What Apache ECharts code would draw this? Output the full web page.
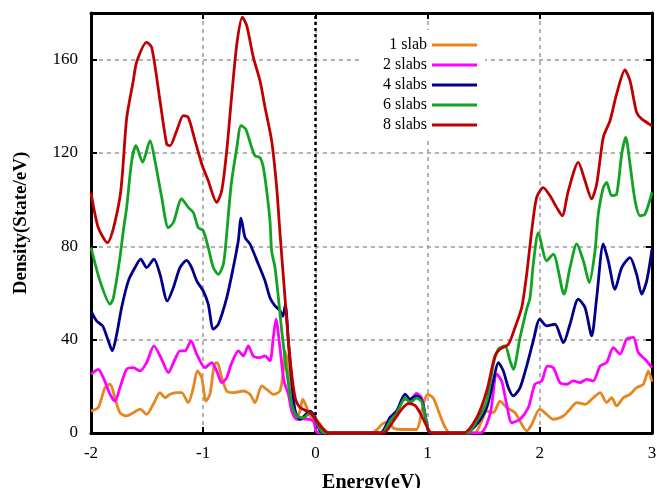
<!DOCTYPE html>
<html>
<head>
<meta charset="utf-8">
<script src="https://cdn.jsdelivr.net/npm/echarts@6/dist/echarts.min.js"></script>
<style>html,body{margin:0;padding:0;background:#fff}#c{width:657px;height:488px}</style>
</head>
<body>
<div id="c"></div>
<script>
// ---- data ----
const seriesNames = ['1 slab', '2 slabs', '4 slabs', '6 slabs', '8 slabs'];
const xTicks = ['-2', '-1', '0', '1', '2', '3'];
const yTicks = ['0', '40', '80', '120', '160'];

const slab1X = [-2.0,-1.935,-1.875,-1.83,-1.786,-1.742,-1.682,-1.623,-1.563,-1.504,-1.445,-1.385,-1.34,-1.296,-1.236,-1.192,-1.133,-1.088,-1.052,-1.013,-0.975,-0.94,-0.90,-0.874,-0.835,-0.79,-0.732,-0.642,-0.583,-0.538,-0.478,-0.434,-0.375,-0.316,-0.286,-0.271,-0.241,-0.22,-0.197,-0.167,-0.137,-0.113,-0.077,-0.047,0.01,0.07,0.12,0.5,0.55,0.6,0.65,0.7,0.8,0.9,0.93,0.96,1.0,1.05,1.1,1.15,1.2,1.42,1.48,1.527,1.586,1.645,1.705,1.779,1.839,1.883,1.928,2.0,2.061,2.12,2.21,2.269,2.329,2.403,2.477,2.537,2.596,2.64,2.685,2.744,2.804,2.863,2.923,2.967,3.0];
const slab1Y = [9.4,10.9,19.4,20.9,15.1,8.7,7.3,8.7,10.2,8,12.3,17.3,15.1,16.6,17.3,17.3,13,19.4,26.6,23.7,13.7,16.6,29.5,30.2,23.7,18,17.3,18,16.6,13,20.2,18.7,16.6,18,26.6,35.2,29.5,18,9.4,6.6,9.4,14.5,10.9,7.3,5.9,2,0,0,1.5,4,4.5,2,1.5,1.5,5,12,16.5,15,9,3,0,0,5,9.4,8.7,13.7,10.9,8.7,3.7,0.9,3.7,10.2,8,5.9,7.3,10.2,13,12.3,15.1,17.3,13,15.1,11.6,15.1,16.6,19.4,20.9,26.6,22];

const slab2X = [-2.0,-1.935,-1.89,-1.83,-1.786,-1.742,-1.682,-1.623,-1.563,-1.504,-1.439,-1.37,-1.311,-1.251,-1.207,-1.162,-1.109,-1.058,-0.984,-0.924,-0.88,-0.835,-0.79,-0.75,-0.687,-0.642,-0.598,-0.553,-0.494,-0.449,-0.405,-0.375,-0.351,-0.316,-0.28,-0.241,-0.211,-0.167,-0.107,-0.02,0.01,0.05,0.58,0.665,0.725,0.77,0.80,0.843,0.9,0.947,0.977,1.006,1.04,1.467,1.556,1.616,1.66,1.705,1.75,1.824,1.898,1.957,2.017,2.067,2.12,2.18,2.24,2.299,2.358,2.418,2.477,2.537,2.596,2.655,2.715,2.774,2.833,2.878,2.938,3.0];
const slab2Y = [25.2,27.3,23.7,16.6,13.7,19.4,27.3,28,26.6,30.2,37.3,31.6,25.9,31.6,35.2,35.2,39.5,33.8,28,30.2,26.6,21.6,23.7,29.5,35.2,33,37.3,33,32.3,33,30.9,40.9,48.8,36.6,22.3,16.6,9.4,5.9,6.1,5.1,0.5,0,0,6.6,9.4,13.5,14.5,14,17,15,8,1,0,0,8,25.2,22.3,12.3,4.4,5.9,10.9,20.9,22.3,28.7,28,21.6,20.9,22.3,21.6,23,22.3,28.7,30.2,36.6,33.8,40.2,41,34.5,31.6,28];

const slab4X = [-2.0,-1.95,-1.896,-1.846,-1.81,-1.771,-1.727,-1.667,-1.608,-1.557,-1.504,-1.439,-1.385,-1.32,-1.266,-1.207,-1.147,-1.103,-1.058,-1.0,-0.955,-0.91,-0.865,-0.79,-0.732,-0.687,-0.663,-0.627,-0.583,-0.509,-0.449,-0.405,-0.36,-0.316,-0.29,-0.268,-0.241,-0.211,-0.18,-0.137,-0.047,-0.003,0.04,0.08,0.576,0.665,0.725,0.77,0.80,0.843,0.903,0.947,0.977,1.006,1.04,1.333,1.438,1.527,1.586,1.63,1.675,1.72,1.764,1.824,1.883,1.942,2.0,2.061,2.135,2.21,2.269,2.343,2.403,2.462,2.507,2.566,2.61,2.67,2.73,2.804,2.863,2.908,2.953,3.0];
const slab4Y = [52.3,48,45.9,39.5,35.2,42.3,53.8,65.2,70.9,74.5,70.9,74.5,68,56.6,62.3,70.9,74,70.9,65.2,60.9,55.2,44.5,46.6,58,70.9,82.4,92.1,83.8,81,72.4,65.2,58,54.5,52.5,50,55,39.5,22.3,9.4,5.9,9.4,6.6,1,0,0,6.6,9.4,14.5,16.6,14.5,15.9,14,8,1,0,0,3.7,10.9,22.3,30.2,26.6,19.4,15.9,19.4,28.7,39.5,48.8,45.9,46.6,38.7,46.6,57.4,53.8,41.6,58,81,73.8,61.6,70.9,75.2,68,59.5,65.2,78.8];

const slab6X = [-2.0,-1.92,-1.83,-1.80,-1.742,-1.712,-1.682,-1.637,-1.599,-1.54,-1.474,-1.43,-1.37,-1.311,-1.266,-1.192,-1.133,-1.088,-1.044,-1.0,-0.955,-0.91,-0.865,-0.82,-0.795,-0.75,-0.70,-0.663,-0.622,-0.568,-0.538,-0.494,-0.464,-0.434,-0.405,-0.39,-0.36,-0.33,-0.30,-0.256,-0.211,-0.167,-0.107,-0.047,-0.003,0.04,0.08,0.59,0.67,0.725,0.77,0.80,0.843,0.9,0.947,0.98,1.01,1.04,1.35,1.438,1.527,1.586,1.63,1.69,1.735,1.764,1.824,1.883,1.913,1.942,1.987,2.061,2.12,2.216,2.269,2.329,2.388,2.441,2.492,2.521,2.566,2.596,2.64,2.685,2.73,2.766,2.804,2.849,2.893,2.938,3.0];
const slab6Y = [79.5,65.2,55.2,58,75.2,86.7,96.7,116.7,123.1,116,125.3,116.7,101,88,90.2,100.3,96.7,94.5,88,86.7,79.5,70.9,68,72.4,83,106.7,122.4,131.7,130.3,122.4,118.8,118,113.8,103.8,91,78,70.9,58,43.8,26.6,12.4,7.3,6.6,8.7,5.9,1.7,0,0,5.5,8.5,13,15,13,15,13.5,7,1,0,0,5,13.7,29.5,35.9,37.3,30.9,27.3,40.9,53.1,58,72.4,85.9,73.8,76.7,59.5,70.9,81,73.8,64.5,78,93.8,105.2,107.4,101.7,102.4,119.6,126.7,115.3,99.5,93.1,93.8,103.1];

const slab8X = [-2.0,-1.935,-1.855,-1.742,-1.682,-1.623,-1.593,-1.504,-1.459,-1.385,-1.325,-1.296,-1.236,-1.177,-1.133,-1.073,-1.013,-0.955,-0.88,-0.835,-0.79,-0.75,-0.70,-0.651,-0.612,-0.553,-0.494,-0.449,-0.39,-0.345,-0.316,-0.271,-0.241,-0.211,-0.18,-0.137,-0.047,0.01,0.07,0.115,0.606,0.694,0.77,0.828,0.887,0.932,0.977,1.02,1.05,1.318,1.438,1.527,1.60,1.645,1.72,1.779,1.839,1.883,1.928,1.972,2.031,2.091,2.15,2.2,2.254,2.343,2.403,2.462,2.507,2.566,2.626,2.685,2.759,2.804,2.863,2.908,3.0];
const slab8Y = [103,88,81.6,101,135,151,159,167.4,165.3,142.4,123.8,123.1,129.6,136,135.3,125.3,115.3,108.1,98.8,103.8,121,142.4,166.7,178.2,174.6,161,151,139.6,125.3,105.2,86,58,39.5,25.3,15.1,10.9,8.7,5.1,1.6,0,0,5.1,10.2,12.6,11.8,8.7,4.4,0.5,0,0,6.6,18,33,35.9,38,45.2,53.8,68,86.7,101,105.2,101.7,96.7,93.1,103.8,116,108.1,100.3,106.7,126.7,133.9,145.3,155.6,151,137.4,134.6,131.7];

const seriesX = [slab1X, slab2X, slab4X, slab6X, slab8X];
const seriesY = [slab1Y, slab2Y, slab4Y, slab6Y, slab8Y];
const colors = ['#e6861f', '#ff00ff', '#00008b', '#13a324', '#c00000'];

// ---- chart ----
const FONT = "'Liberation Serif', 'DejaVu Serif', serif";
const chart = echarts.init(document.getElementById('c'), null, {renderer: 'canvas'});

const series = seriesNames.map((name, i) => {
  const s = {
    name: name,
    type: 'line',
    data: seriesX[i].map((x, k) => [x, seriesY[i][k]]),
    showSymbol: false,
    symbol: 'none',
    smooth: 0.25,
    clip: true,
    color: colors[i],
    lineStyle: {color: colors[i], width: 2.8},
    itemStyle: {color: colors[i]},
    z: 3 + i
  };
  if (i === 0) {
    s.markLine = {
      silent: true,
      symbol: 'none',
      label: {show: false},
      lineStyle: {color: '#000', type: [3, 3], width: 2.5},
      data: [{xAxis: 0}],
      z: 2
    };
  }
  return s;
});

const tickLabelStyle = {color: '#000', fontFamily: FONT, fontSize: 17};
const gridLine = {show: true, lineStyle: {color: '#9a9a9a', type: [4, 4], width: 1.5}};

chart.setOption({
  animation: false,
  backgroundColor: '#fff',
  grid: {left: 91, right: 5, top: 13, bottom: 55, containLabel: false, outerBoundsMode: 'none'},
  legend: {
    orient: 'vertical',
    align: 'right',
    right: 172,
    top: 30,
    padding: [5, 8, 2, 22],
    backgroundColor: '#fff',
    itemWidth: 45,
    itemHeight: 3,
    itemGap: 0,
    icon: 'rect',
    data: seriesNames,
    textStyle: {fontFamily: FONT, fontSize: 16, color: '#000', lineHeight: 20}
  },
  xAxis: [
    {
      type: 'value', min: -2, max: 3, interval: 1, position: 'bottom',
      axisLine: {show: true, onZero: false, lineStyle: {color: '#000', width: 3}},
      axisTick: {show: true, inside: true, length: 6, lineStyle: {color: '#000', width: 2}},
      axisLabel: Object.assign({margin: 12, formatter: v => xTicks[Math.round(v + 2)]}, tickLabelStyle),
      splitLine: gridLine,
      name: 'Energy(eV)', nameLocation: 'middle', nameGap: 40,
      nameTextStyle: {color: '#000', fontFamily: FONT, fontSize: 20, fontWeight: 'bold'}
    },
    {
      type: 'value', min: -2, max: 3, interval: 1, position: 'top',
      axisLine: {show: true, onZero: false, lineStyle: {color: '#000', width: 3}},
      axisTick: {show: true, inside: true, length: 6, lineStyle: {color: '#000', width: 2}},
      axisLabel: {show: false},
      splitLine: {show: false}
    }
  ],
  yAxis: [
    {
      type: 'value', min: 0, max: 180, interval: 40, position: 'left',
      axisLine: {show: true, onZero: false, lineStyle: {color: '#000', width: 3}},
      axisTick: {show: true, inside: true, length: 6, lineStyle: {color: '#000', width: 2}},
      axisLabel: Object.assign({margin: 13, showMaxLabel: false,
        formatter: v => (v % 40 === 0 && v / 40 < yTicks.length) ? yTicks[v / 40] : ''}, tickLabelStyle),
      splitLine: gridLine,
      name: 'Density(State/eV)', nameLocation: 'middle', nameGap: 60,
      nameTextStyle: {color: '#000', fontFamily: FONT, fontSize: 19, fontWeight: 'bold'}
    },
    {
      type: 'value', min: 0, max: 180, interval: 40, position: 'right',
      axisLine: {show: true, onZero: false, lineStyle: {color: '#000', width: 3}},
      axisTick: {show: true, inside: true, length: 6, lineStyle: {color: '#000', width: 2}},
      axisLabel: {show: false},
      splitLine: {show: false}
    }
  ],
  series: series
});
</script>
</body>
</html>
